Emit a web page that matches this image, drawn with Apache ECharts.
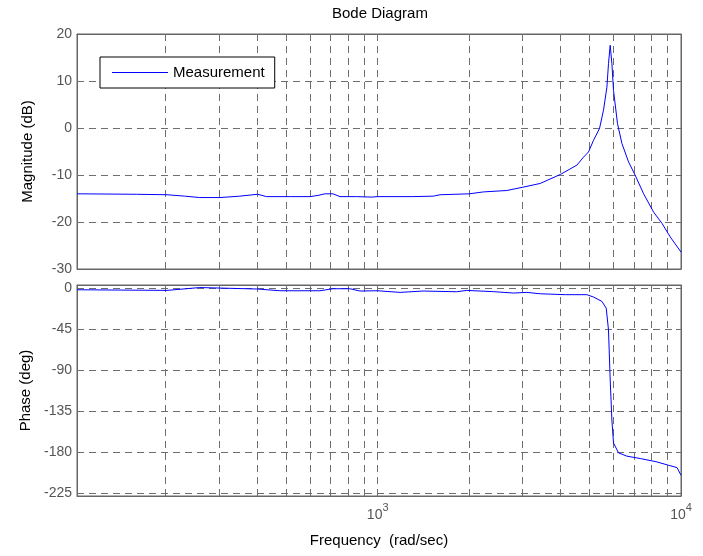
<!DOCTYPE html>
<html>
<head>
<meta charset="utf-8">
<script src="https://cdn.jsdelivr.net/npm/echarts@6/dist/echarts.min.js"></script>
<style>html,body{margin:0;padding:0;background:#fff;}#c{width:703px;height:556px;}</style>
</head>
<body>
<div id="c"></div>
<script>
// ---- data ----
const magFreq = [102, 160, 202, 231, 259, 302, 351, 402, 430, 515, 601, 640, 670, 712, 751, 850, 955, 1000, 1300, 1526, 1606, 2006, 2231, 2665, 3010, 3433, 3997, 4537, 4771, 4955, 5148, 5387, 5553, 5698, 5767, 5842, 5918, 5991, 6176, 6386, 6714, 7068, 7529, 8122, 8658, 9220, 10000];
const magDb   = [-14.0, -14.1, -14.2, -14.5, -14.8, -14.8, -14.5, -14.1, -14.6, -14.6, -14.6, -14.3, -14.0, -14.0, -14.6, -14.6, -14.7, -14.6, -14.6, -14.5, -14.2, -14.0, -13.6, -13.3, -12.6, -11.8, -9.9, -7.9, -6.2, -5.1, -2.6, -0.1, 3.8, 8.7, 13.7, 17.6, 13.7, 8.0, 0.9, -3.3, -7.2, -10.1, -14.0, -17.9, -20.3, -23.2, -26.4];
const phaseFreq = [102, 202, 259, 402, 476, 645, 712, 810, 874, 1000, 1185, 1411, 1822, 1966, 2407, 2803, 3103, 3433, 4152, 4895, 5148, 5486, 5668, 5767, 5842, 5918, 5991, 6223, 6633, 7342, 8334, 9101, 9701, 10000];
const phaseDeg  = [-1.9, -2.6, 0.5, -1.1, -3.0, -3.0, -0.8, -0.8, -3.3, -3.0, -4.8, -3.3, -4.1, -2.6, -4.0, -5.5, -4.8, -6.3, -7.3, -7.3, -9.9, -14.7, -22, -45.8, -100.6, -144.5, -169.5, -180.4, -184, -186.6, -190.3, -194, -196.5, -204.9];
const freqGrid = [200, 300, 400, 500, 600, 700, 800, 900, 1000, 2000, 3000, 4000, 5000, 6000, 7000, 8000, 9000];
const freqLabels = [1000, 10000];
const magTicks = [20, 10, 0, -10, -20, -30];
const magGrid = [10, 0, -10, -20];
const phaseTicks = [0, -45, -90, -135, -180, -225];
const seriesName = 'Measurement';

const FONT = 'Liberation Sans, Arial, Helvetica, sans-serif';
const AX = '#666';
const GRIDC = '#6e6e6e';
const gridLine = { color: GRIDC, width: 1, type: [7, 5] };

function xAxisCfg(gi, showLabels, pos, name) {
  return {
    type: 'log', logBase: 10, gridIndex: gi, min: 102, max: 10000, position: pos,
    name: name || '', nameLocation: 'middle', nameGap: 37,
    nameTextStyle: { fontSize: 15, fontFamily: FONT, color: '#000' },
    axisLine: { show: true, onZero: false, lineStyle: { color: AX, width: 1 } },
    axisTick: { show: true, inside: true, length: 4, lineStyle: { color: AX },
      customValues: freqGrid.concat([10000]) },
    axisLabel: {
      show: showLabels, customValues: freqLabels, margin: 6, color: '#555', fontFamily: FONT,
      formatter: function (v) { return '{b|10}{s|' + Math.round(Math.log10(v)) + '}'; },
      rich: {
        b: { fontSize: 14, fontFamily: FONT, color: '#555' },
        s: { fontSize: 11, fontFamily: FONT, color: '#555', padding: [0, 0, 16, 0] }
      }
    },
    splitLine: { show: false }, minorTick: { show: false }
  };
}
function yAxisCfg(gi, min, max, ticks, showLabels, pos, name) {
  return {
    type: 'value', gridIndex: gi, min: min, max: max, position: pos,
    name: name || '', nameLocation: 'middle', nameGap: 42,
    nameTextStyle: { fontSize: 15, fontFamily: FONT, color: '#000' },
    axisLine: { show: true, onZero: false, lineStyle: { color: AX, width: 1 } },
    axisTick: { show: true, inside: true, length: 5, lineStyle: { color: AX }, customValues: ticks },
    axisLabel: { show: showLabels, customValues: ticks, margin: 5, fontSize: 14, fontFamily: FONT, color: '#555' },
    splitLine: { show: false }
  };
}
function gridMarks(hVals) {
  const d = freqGrid.map(f => ({ xAxis: f })).concat(hVals.map(v => ({ yAxis: v })));
  return { silent: true, symbol: ['none', 'none'], z: 1, label: { show: false },
    lineStyle: gridLine, emphasis: { disabled: true }, animation: false, data: d };
}

const chart = echarts.init(document.getElementById('c'), null, { renderer: 'canvas' });
chart.setOption({
  animation: false,
  backgroundColor: '#fff',
  title: { text: 'Bode Diagram', left: 332, top: 6, padding: 0,
    textStyle: { fontSize: 15, fontWeight: 'normal', fontFamily: FONT, color: '#000' } },
  legend: { data: [seriesName], left: 100, top: 57, orient: 'horizontal',
    padding: [7, 10, 7, 12], borderColor: '#000', borderWidth: 1, backgroundColor: '#fff',
    icon: 'rect', itemWidth: 56, itemHeight: 1, borderRadius: 0,
    textStyle: { fontSize: 15, fontFamily: FONT, color: '#000', lineHeight: 17 } },
  grid: [
    { left: 77, right: 22, top: 34, height: 235, show: true, borderColor: AX, borderWidth: 1, backgroundColor: '#fff' },
    { left: 77, right: 22, top: 285, height: 211, show: true, borderColor: AX, borderWidth: 1, backgroundColor: '#fff' }
  ],
  xAxis: [
    xAxisCfg(0, false, 'bottom'),
    xAxisCfg(1, true, 'bottom', 'Frequency  (rad/sec)'),
    xAxisCfg(0, false, 'top'),
    xAxisCfg(1, false, 'top')
  ],
  yAxis: [
    yAxisCfg(0, -30, 20, magTicks, true, 'left', 'Magnitude (dB)'),
    yAxisCfg(1, -227.6, 3.3, phaseTicks, true, 'left', 'Phase (deg)'),
    yAxisCfg(0, -30, 20, magTicks, false, 'right'),
    yAxisCfg(1, -227.6, 3.3, phaseTicks, false, 'right')
  ],
  series: [
    { name: seriesName, type: 'line', xAxisIndex: 0, yAxisIndex: 0, z: 3,
      symbol: 'none', showSymbol: false, smooth: false,
      lineStyle: { color: '#0000ff', width: 1 }, itemStyle: { color: '#0000ff' },
      data: magFreq.map((f, i) => [f, magDb[i]]), markLine: gridMarks(magGrid) },
    { name: seriesName, type: 'line', xAxisIndex: 1, yAxisIndex: 1, z: 3,
      symbol: 'none', showSymbol: false, smooth: false,
      lineStyle: { color: '#0000ff', width: 1 }, itemStyle: { color: '#0000ff' },
      data: phaseFreq.map((f, i) => [f, phaseDeg[i]]), markLine: gridMarks(phaseTicks) }
  ]
});
</script>
</body>
</html>
